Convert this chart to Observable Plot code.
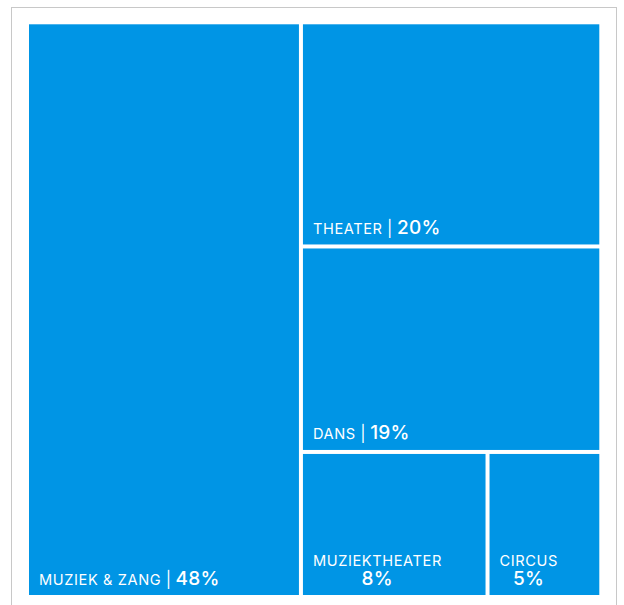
<!DOCTYPE html>
<html><head><meta charset="utf-8">
<script src="https://cdn.jsdelivr.net/npm/d3@7"></script>
<script src="https://cdn.jsdelivr.net/npm/@observablehq/plot@0.6"></script>
<style>
html,body{margin:0;padding:0;background:#fff;overflow:hidden}
#wrap{position:relative;width:624px;height:605px}
#frame{position:absolute;left:11px;top:7px;width:606px;height:640px;box-sizing:border-box;border:1px solid #c8c8c8}
#chart{position:absolute;left:0;top:0}
</style></head><body><div id="wrap"><div id="frame"></div><div id="chart"></div></div>
<script>
const categories = ["MUZIEK & ZANG", "THEATER", "DANS", "MUZIEKTHEATER", "CIRCUS"];
const shares = [47.7, 20.4, 18.7, 8.2, 5.0];
const percentLabels = ["48%", "20%", "19%", "8%", "5%"];

const W = 570.3, H = 570.7;
function leaf(i){ return {name: categories[i], value: shares[i], pct: percentLabels[i]}; }
function chain(i){
  if (i === categories.length - 2) return {children: [leaf(i), leaf(i + 1)]};
  return {children: [leaf(i), chain(i + 1)]};
}
const root = d3.hierarchy(chain(0)).sum(d => d.value || 0);
const tile = (node, x0, y0, x1, y1) =>
  (node.depth === 0 || (x1 - x0) > (y1 - y0) ? d3.treemapDice : d3.treemapSlice)(node, x0, y0, x1, y1);
d3.treemap().size([W, H]).paddingInner(4).tile(tile)(root);

const leaves = root.leaves().map(n => ({
  name: n.data.name, pct: n.data.pct,
  x0: n.x0, x1: n.x1, y0: n.y0, y1: n.y1,
  stacked: (n.x1 - n.x0) < 200
}));

const svg = Plot.plot({
  width: 624, height: 605,
  marginLeft: 29, marginRight: 24.7, marginTop: 24.3, marginBottom: 10,
  x: {domain: [0, W], axis: null},
  y: {domain: [0, H], reverse: true, axis: null},
  style: {background: "transparent", fontFamily: "Inter, 'Noto Sans', sans-serif"},
  marks: [
    Plot.rect(leaves, {x1: "x0", x2: "x1", y1: "y0", y2: "y1", fill: "#0095e5"}),
    Plot.text(leaves, {x: "x0", y: "y1", text: "name", dx: 9.5, dy: -11,
      textAnchor: "start", lineAnchor: "bottom", fill: "white", fontSize: 15})
  ]
});
document.getElementById("chart").append(svg);

const NS = "http://www.w3.org/2000/svg";
function ts(txt, size, weight){
  const e = document.createElementNS(NS, "tspan");
  e.textContent = txt;
  e.setAttribute("font-size", size);
  if (weight) e.setAttribute("font-weight", weight);
  e.style.whiteSpace = "pre";
  return e;
}
const texts = svg.querySelectorAll('g[aria-label="text"] text');
texts.forEach((t, i) => {
  const d = leaves[i];
  const tx = +(t.getAttribute("x") || 0);
  t.textContent = "";
  if (!d.stacked) {
    const a = ts(d.name, 14.6, 400);
    a.setAttribute("letter-spacing", "0.6");
    const bar = ts(" | ", 16, 400);
    const b = ts(d.pct, 19, 500);
    b.setAttribute("letter-spacing", "0.3");
    t.append(a, bar, b);
  } else {
    const a = ts(d.name, 14.6, 400);
    a.setAttribute("letter-spacing", "0.6");
    a.setAttribute("x", tx);
    a.setAttribute("dy", -19);
    const b = ts(d.pct, 19, 500);
    b.setAttribute("letter-spacing", "0.3");
    t.append(a, b);
    const la = a.getComputedTextLength() - 0.6, lb = b.getComputedTextLength() - 0.3;
    b.setAttribute("x", tx + (la - lb) / 2);
    b.setAttribute("dy", 19);
  }
});
</script>
</body></html>
